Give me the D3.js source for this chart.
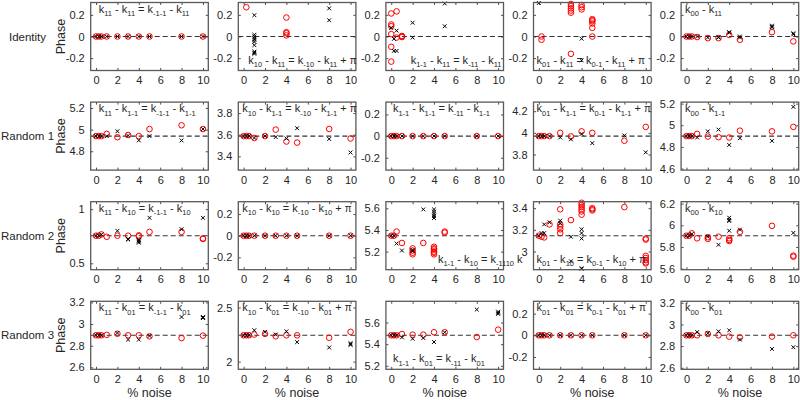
<!DOCTYPE html>
<html><head><meta charset="utf-8">
<script src="https://cdn.jsdelivr.net/npm/d3@7"></script>
<style>
body{margin:0;background:#fff}
svg{display:block}
text{font-family:"Liberation Sans",Arial,Helvetica,sans-serif;fill:#262626}
</style>
</head><body>
<svg id="chart" width="800" height="400"></svg>
<script>
// ---------------- data ----------------
const xTicks = [0, 2, 4, 6, 8, 10];
const rowNames = ["Identity", "Random 1", "Random 2", "Random 3"];
const refs = [
  [0, 0, 0, 0, 0],
  [4.94, 3.587, 0, 3.97, 4.90],
  [0.755, 0, 5.347, 3.146, 5.904],
  [2.896, 2.243, 5.482, 0, 2.90]
];
const yTicks = [
  [[-0.2, 0, 0.2], [-0.2, 0, 0.2], [-0.2, 0, 0.2], [-0.2, 0, 0.2], [-0.2, 0, 0.2]],
  [[4.8, 5, 5.2], [3.4, 3.6, 3.8], [-0.2, 0, 0.2], [3.8, 4, 4.2], [4.6, 4.8, 5, 5.2]],
  [[0.5, 1], [-0.2, 0, 0.2], [5.2, 5.4, 5.6], [3, 3.2, 3.4], [5.6, 5.8, 6, 6.2]],
  [[2.6, 2.8, 3, 3.2], [2, 2.5], [5.2, 5.4, 5.6], [-0.2, 0, 0.2], [2.6, 2.8, 3, 3.2]]
];
const labels = [
  ["k_{11} - k_{11} = k_{-1-1} - k_{11}", "k_{10} - k_{11} = k_{-10} - k_{11} + \\pi", "k_{1-1} - k_{11} = k_{-11} - k_{11}", "k_{01} - k_{11} = k_{0-1} - k_{11} + \\pi", "k_{00} - k_{11}"],
  ["k_{11} - k_{1-1} = k_{-1-1} - k_{1-1}", "k_{10} - k_{1-1} = k_{-10} - k_{1-1} + \\pi", "k_{1-1} - k_{1-1} = k_{-11} - k_{1-1}", "k_{01} - k_{1-1} = k_{0-1} - k_{1-1} + \\pi", "k_{00} - k_{1-1}"],
  ["k_{11} - k_{10} = k_{-1-1} - k_{10}", "k_{10} - k_{10} = k_{-10} - k_{10} + \\pi", "k_{1-1} - k_{10} = k_{-1110} k", "k_{01} - k_{10} = k_{0-1} - k_{10} + \\pi", "k_{00} - k_{10}"],
  ["k_{11} - k_{01} = k_{-1-1} - k_{01}", "k_{10} - k_{01} = k_{-10} - k_{01} + \\pi", "k_{1-1} - k_{01} = k_{-11} - k_{01}", "k_{01} - k_{01} = k_{0-1} - k_{01} + \\pi", "k_{00} - k_{01}"]
];

// red circles / black crosses: [noise %, phase]
const red_1_1 = [[0,0],[0.25,0],[0.5,0],[1,0],[2,0],[3,0],[4,0],[5,0],[8,0],[10,0]];
const black_1_1 = [[0,0],[0.25,0],[0.5,0],[1,0],[2,0],[3,0],[4,0],[5,0],[8,0],[10,0]];
const red_1_2 = [[0.25,0.27],[4,0.175],[4,0.04],[4,0.03],[4,0.01]];
const black_1_2 = [[1,0.197],[1,0.016],[1,0.0],[1,-0.015],[1,-0.03],[1,-0.05],[1,-0.08],[1,-0.14],[1,-0.15],[1,-0.16],[8,0.26],[8,0.15]];
const red_1_3 = [[0,0.213],[0.5,0.232],[0,0.111],[0,0.095],[0,0.022],[0.5,-0.01],[0,-0.095],[0,-0.232],[1,0],[1,0.005],[1,-0.005]];
const black_1_3 = [[0,0.079],[0.5,0.054],[0.25,-0.022],[0.25,-0.133],[0.5,-0.133],[2,0.127],[2,-0.01],[5,0.305],[5,0.095]];
const red_1_4 = [[0.25,0],[0.25,-0.03],[3,0.30],[3,0.28],[3,0.26],[3,0.24],[3,0.22],[3,-0.16],[4,0.29],[4,0.27],[4,0.25],[5,0.16],[5,0.15],[5,0.14],[5,0.12],[5,0.08],[5,0]];
const black_1_4 = [[0,0.31],[4,-0.02],[4,-0.22]];
const red_1_5 = [[0,0],[0.25,0],[0.5,0],[1,-0.005],[2,-0.015],[3,-0.015],[4,0.015],[5,-0.03],[8,0.04],[10,-0.045]];
const black_1_5 = [[0,0],[0.25,0],[0.5,0],[1,0],[2,-0.01],[3,-0.01],[3,-0.005],[4,0.04],[4,0.035],[5,0],[5,-0.01],[8,0.1],[8,0.09],[8,0.085],[10,0.03],[10,0.02]];

const red_2_1 = [[0,4.94],[0.25,4.94],[0.5,4.94],[1,4.96],[2,4.93],[3,4.95],[4,4.94],[5,5.005],[8,5.04],[10,5.005]];
const black_2_1 = [[0,4.94],[0.25,4.94],[0.5,4.94],[1,4.94],[2,4.985],[3,4.945],[4,4.90],[5,4.94],[8,4.90],[10,5.005]];
const red_2_2 = [[0,3.587],[0.25,3.587],[0.5,3.587],[1,3.57],[2,3.587],[3,3.647],[4,3.537],[5,3.527],[8,3.653],[10,3.565]];
const black_2_2 = [[0,3.587],[0.25,3.587],[0.5,3.587],[1,3.57],[2,3.587],[3,3.578],[4,3.565],[5,3.66],[8,3.56],[10,3.436]];
const red_2_3 = [[0,0],[0.25,0],[0.5,0],[1,0],[2,0],[3,0],[4,0],[5,0],[8,0],[10,0]];
const black_2_3 = [[0,0],[0.25,0],[0.5,0],[1,0],[2,0],[3,0],[4,0],[5,0],[8,0],[10,0]];
const red_2_4 = [[0,3.97],[0.25,3.97],[0.5,3.97],[1,3.97],[2,4.0],[3,3.967],[4,4.014],[5,4.0],[8,3.927],[10,4.055]];
const black_2_4 = [[0,3.97],[0.25,3.97],[0.5,3.97],[1,3.97],[2,3.957],[3,3.94],[4,3.99],[5,3.905],[8,3.976],[10,3.82]];
const red_2_5 = [[0,4.90],[0.25,4.90],[0.5,4.90],[1,4.92],[2,4.896],[3,4.89],[4,4.887],[5,4.95],[8,4.944],[10,4.985]];
const black_2_5 = [[0,4.90],[0.25,4.90],[0.5,4.90],[1,4.887],[2,4.944],[3,4.96],[4,4.818],[5,4.88],[8,4.856],[10,5.17]];

const red_3_1 = [[0,0.755],[0.25,0.755],[0.5,0.767],[1,0.745],[2,0.755],[3,0.755],[4,0.758],[4,0.75],[5,0.79],[8,0.79],[10,0.73],[10,0.725]];
const black_3_1 = [[0,0.755],[0.25,0.755],[0.5,0.767],[2,0.80],[3,0.72],[3,0.725],[4,0.71],[4,0.70],[4,0.69],[4,0.715],[5,0.92],[8,0.815],[10,0.92]];
const red_3_2 = [[0,0],[0.25,0],[0.5,0],[1,0],[2,0],[3,0],[4,0],[5,0],[8,0],[10,0]];
const black_3_2 = [[0,0],[0.25,0],[0.5,0],[1,0],[2,0],[3,0],[4,0],[5,0],[8,0],[10,0]];
const red_3_3 = [[0,5.347],[0.25,5.347],[0.5,5.385],[1,5.28],[2,5.23],[2,5.21],[2,5.19],[2,5.175],[3,5.28],[4,5.245],[4,5.23],[4,5.22],[4,5.20],[4,5.19],[4,5.175],[5,5.385],[5,5.375]];
const black_3_3 = [[0,5.347],[0.25,5.347],[0.5,5.275],[1,5.21],[2,5.215],[2,5.205],[3,5.59],[4,5.59],[4,5.57],[4,5.55],[4,5.53],[4,5.51]];
const red_3_4 = [[0,3.146],[0.25,3.137],[0.5,3.13],[1,3.25],[2,3.39],[2,3.25],[2,3.23],[2,3.205],[2,3.17],[3,3.29],[4,3.45],[4,3.43],[4,3.41],[4,3.39],[4,3.37],[4,3.34],[5,3.40],[5,3.39],[5,3.38],[8,3.41],[10,3.12],[10,3.11],[10,2.96],[10,2.94],[10,2.92],[10,2.90],[10,2.89]];
const black_3_4 = [[0,3.146],[0.25,3.17],[0.5,3.17],[0.5,3.25],[1,3.27],[2,3.285],[2,3.26],[3,3.136],[3,2.91],[4,3.205],[4,3.17],[4,3.12],[4,2.84],[4,2.845]];
const red_3_5 = [[0,5.904],[0.25,5.904],[0.5,5.926],[1,5.88],[2,5.89],[2,5.875],[3,5.895],[4,5.88],[4,5.865],[4,5.855],[5,5.94],[8,5.995],[10,5.72],[10,5.71]];
const black_3_5 = [[0,5.904],[0.25,5.904],[0.5,5.92],[2,5.895],[3,5.82],[4,6.07],[4,6.05],[4,6.04],[4,5.95],[5,5.96],[10,5.93]];

const red_4_1 = [[0,2.896],[0.25,2.896],[0.5,2.896],[1,2.90],[2,2.91],[3,2.896],[4,2.896],[5,2.887],[8,2.87],[10,2.893]];
const black_4_1 = [[0,2.896],[0.25,2.896],[0.5,2.896],[2,2.918],[3,2.856],[4,2.856],[5,2.89],[8,3.065],[10,3.065],[10,3.06],[10,3.055]];
const red_4_2 = [[0,2.243],[0.25,2.243],[0.5,2.243],[1,2.25],[2,2.256],[3,2.234],[4,2.243],[5,2.243],[8,2.22],[10,2.275]];
const black_4_2 = [[0,2.243],[0.25,2.243],[0.5,2.243],[1,2.29],[2,2.275],[3,2.25],[4,2.28],[5,2.18],[8,2.13],[10,2.17],[10,2.16],[10,2.155]];
const red_4_3 = [[0,5.482],[0.25,5.482],[0.5,5.482],[1,5.494],[2,5.488],[3,5.488],[4,5.51],[5,5.51],[8,5.466],[10,5.534]];
const black_4_3 = [[0,5.482],[0.25,5.482],[0.5,5.482],[1,5.463],[2,5.45],[3,5.457],[4,5.42],[5,5.51],[8,5.72],[10,5.70],[10,5.69],[10,5.68]];
const red_4_4 = [[0,0],[0.25,0],[0.5,0],[1,0],[2,0],[3,0],[4,0],[5,0],[8,0],[10,0]];
const black_4_4 = [[0,0],[0.25,0],[0.5,0],[1,0],[2,0],[3,0],[4,0],[5,0],[8,0],[10,0]];
const red_4_5 = [[0,2.90],[0.25,2.90],[0.5,2.90],[1,2.90],[2,2.912],[3,2.90],[4,2.888],[5,2.88],[8,2.888],[10,2.90]];
const black_4_5 = [[0,2.90],[0.25,2.90],[0.5,2.90],[1,2.93],[2,2.92],[3,2.937],[4,2.946],[5,2.86],[8,2.774],[10,2.79]];

const redSets = [
  [red_1_1, red_1_2, red_1_3, red_1_4, red_1_5],
  [red_2_1, red_2_2, red_2_3, red_2_4, red_2_5],
  [red_3_1, red_3_2, red_3_3, red_3_4, red_3_5],
  [red_4_1, red_4_2, red_4_3, red_4_4, red_4_5]
];
const blackSets = [
  [black_1_1, black_1_2, black_1_3, black_1_4, black_1_5],
  [black_2_1, black_2_2, black_2_3, black_2_4, black_2_5],
  [black_3_1, black_3_2, black_3_3, black_3_4, black_3_5],
  [black_4_1, black_4_2, black_4_3, black_4_4, black_4_5]
];

// ---------------- layout (not data) ----------------
const colLeft = [90.7, 238.3, 385.9, 533.5, 681.1];
const rowTop = [2.5, 102.1, 201.7, 301.3];
const W = 117.6, H = 68;
const halfRange = 0.314;
// label placement: [anchor, x-offset, vertical]  t = top, b = bottom
const labelPlace = [
  [["start",8,"t"],["start",10,"b"],["end",-2,"b"],["start",3,"b"],["start",4,"t"]],
  [["start",8,"t"],["start",4,"t"],["start",7,"t"],["start",3,"t"],["start",4,"t"]],
  [["start",8,"t"],["start",4,"t"],["start",52,"b"],["start",3,"b"],["start",4,"t"]],
  [["start",8,"t"],["start",4,"t"],["start",7,"b"],["start",3,"t"],["start",4,"t"]]
];

const svg = d3.select("#chart");
const fmt = v => String(+v.toFixed(2));

function drawLabel(g, str, x, y, anchor) {
  const t = g.append("text").attr("x", x).attr("y", y).attr("text-anchor", anchor)
    .style("font-size", "11px");
  const parts = str.split(/(_\{[^}]*\}|\\pi)/).filter(s => s.length);
  let shift = 0;
  parts.forEach(p => {
    if (p.startsWith("_{")) {
      t.append("tspan").attr("dy", 3.5 - shift).style("font-size", "7.5px").text(p.slice(2, -1));
      shift = 3.5;
    } else if (p === "\\pi") {
      t.append("tspan").attr("dy", -shift).style("font-size", "10px").text("\u03c0");
      shift = 0;
    } else {
      t.append("tspan").attr("dy", -shift).text(p);
      shift = 0;
    }
  });
}

for (let r = 0; r < 4; r++) {
  for (let c = 0; c < 5; c++) {
    const x0 = colLeft[c], y0 = rowTop[r];
    const ref = refs[r][c];
    const x = d3.scaleLinear().domain([-0.5, 10.5]).range([x0, x0 + W]);
    const y = d3.scaleLinear().domain([ref - halfRange, ref + halfRange]).range([y0 + H, y0]);
    const g = svg.append("g");

    // axes with inward ticks on all sides
    const axB = d3.axisBottom(x).tickValues(xTicks).tickSize(-2.5).tickPadding(6).tickFormat(fmt);
    const axT = d3.axisTop(x).tickValues(xTicks).tickSize(-2.5).tickFormat("");
    const axL = d3.axisLeft(y).tickValues(yTicks[r][c]).tickSize(-2.5).tickPadding(6).tickFormat(fmt);
    const axR = d3.axisRight(y).tickValues(yTicks[r][c]).tickSize(-2.5).tickFormat("");
    [[axB, `translate(0,${y0 + H})`], [axT, `translate(0,${y0})`], [axL, `translate(${x0},0)`], [axR, `translate(${x0 + W},0)`]]
      .forEach(([ax, tr]) => {
        const a = g.append("g").attr("transform", tr).call(ax);
        a.select(".domain").remove();
        a.selectAll(".tick line").attr("stroke", "#4d4d4d").attr("stroke-width", 1);
        a.selectAll(".tick text").attr("fill", "#262626").style("font-size", "11px")
          .style("font-family", '"Liberation Sans",Arial,sans-serif');
      });

    // dashed reference line
    g.append("line").attr("x1", x0).attr("x2", x0 + W).attr("y1", y(ref)).attr("y2", y(ref))
      .attr("stroke", "#333").attr("stroke-width", 1.1).attr("stroke-dasharray", "5,3");

    // red circles
    g.selectAll("circle.red").data(redSets[r][c]).enter().append("circle")
      .attr("cx", d => x(d[0])).attr("cy", d => y(d[1])).attr("r", 2.8)
      .attr("fill", "none").attr("stroke", "#ff0000").attr("stroke-width", 1);

    // black crosses
    const s = 1.9;
    g.selectAll("path.blk").data(blackSets[r][c]).enter().append("path")
      .attr("d", d => {
        const px = x(d[0]), py = y(d[1]);
        return `M${px - s},${py - s}L${px + s},${py + s}M${px - s},${py + s}L${px + s},${py - s}`;
      })
      .attr("stroke", "#000").attr("stroke-width", 1).attr("fill", "none");

    // box
    g.append("rect").attr("x", x0).attr("y", y0).attr("width", W).attr("height", H)
      .attr("fill", "none").attr("stroke", "#5a5a5a").attr("stroke-width", 1.3);

    // panel label
    const [anchor, off, pos] = labelPlace[r][c];
    const lx = anchor === "end" ? x0 + W + off : x0 + off;
    const ly = pos === "t" ? y0 + 10 : y0 + H - 7;
    drawLabel(g, labels[r][c], lx, ly, anchor);

    if (c === 0) {
      svg.append("text").attr("transform", `translate(${x0 - 26},${y0 + H / 2}) rotate(-90)`)
        .attr("text-anchor", "middle").style("font-size", "12.5px").text("Phase");
      svg.append("text").attr("x", 27.5).attr("y", y0 + H / 2 + 4).attr("text-anchor", "middle")
        .style("font-size", "11.5px").text(rowNames[r]);
    }
    if (r === 3) {
      svg.append("text").attr("x", x0 + W / 2).attr("y", 397).attr("text-anchor", "middle")
        .style("font-size", "12.5px").text("% noise");
    }
  }
}
</script>
</body></html>
